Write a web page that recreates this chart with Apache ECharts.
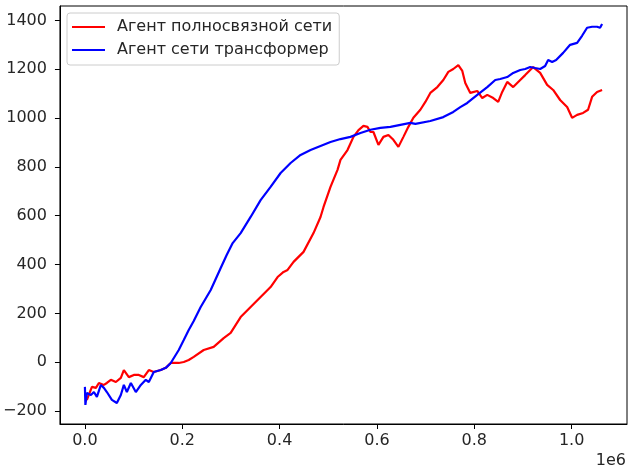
<!DOCTYPE html>
<html>
<head>
<meta charset="utf-8">
<script src="https://cdn.jsdelivr.net/npm/echarts@6/dist/echarts.min.js"></script>
<style>html,body{margin:0;padding:0;background:#fff}#c{width:628px;height:472px}</style>
</head>
<body>
<div id="c"></div>
<script>
const seriesNames = ['Агент полносвязной сети', 'Агент сети трансформер'];

const redSteps = [0,4100,8200,14400,22600,28700,39000,45100,53300,63600,73800,80000,84100,90300,100500,110800,121000,131300,141500,155900,166200,176400,192800,203100,213300,223600,244100,264600,285100,299500,320000,340500,361000,381500,395900,408200,416400,428700,449200,469700,484100,490300,504600,519000,525100,539500,551800,562100,572300,580500,586700,592800,603100,613300,623600,633800,644100,654400,664600,674900,689200,699500,709700,724100,736400,746700,756900,767200,775400,781500,791800,806200,816400,826700,839000,849200,857400,867700,880000,894400,904600,914900,921000,935400,949700,962100,976400,990800,1001000,1011300,1023600,1033800,1042100,1052300,1062600];
const redRewards = [-126,-154,-146,-101,-105,-85,-93,-85,-72,-81,-64,-32,-40,-61,-52,-52,-61,-32,-40,-32,-23,-3,-3,1,9,22,50,63,99,120,185,226,267,308,349,370,378,411,452,529,595,636,718,788,829,869,923,951,968,964,943,943,890,923,931,911,882,923,964,1001,1034,1066,1103,1127,1156,1189,1201,1217,1193,1144,1103,1111,1082,1095,1082,1066,1107,1148,1127,1156,1176,1197,1209,1185,1136,1115,1074,1045,1001,1013,1021,1034,1087,1107,1115];

const blueSteps = [0,1000,4100,12300,18500,24600,32800,39000,45100,55400,65600,73800,80000,86200,94400,104600,114900,125100,131300,141500,155900,166200,176400,192800,203100,213300,223600,237900,258500,279000,291300,303600,320000,340500,361000,381500,402100,422600,443100,463600,484100,504600,525100,545600,566200,586700,607200,627700,648200,668700,679000,709700,736400,756900,771300,785600,806200,826700,843100,853300,867700,880000,894400,904600,914900,925100,935400,945600,951800,960000,968200,982600,996900,1011300,1021500,1031800,1042100,1052300,1058500,1062600];
const blueRewards = [-101,-175,-126,-134,-122,-142,-93,-105,-122,-154,-167,-134,-93,-122,-85,-122,-93,-72,-81,-40,-32,-23,-3,50,91,132,169,226,296,386,439,488,529,595,664,718,775,816,849,869,886,902,914,923,939,952,960,964,972,980,976,988,1004,1025,1045,1062,1095,1127,1156,1160,1168,1185,1197,1201,1209,1205,1201,1213,1238,1230,1238,1267,1300,1308,1337,1370,1374,1374,1370,1385];

const xTicks = [0, 200000, 400000, 600000, 800000, 1000000];
const yTicks = [-200, 0, 200, 400, 600, 800, 1000, 1200, 1400];
const xOffsetLabel = '1e6';

function zip(a, b) { return a.map((v, i) => [v, b[i]]); }

const chart = echarts.init(document.getElementById('c'), null, { renderer: 'canvas' });
const font = '"DejaVu Sans"';
const fs = 16;
chart.setOption({
  animation: false,
  backgroundColor: '#ffffff',
  textStyle: { fontFamily: font },
  grid: { left: 59, top: 6, right: 1, bottom: 48, show: true, borderColor: '#000', borderWidth: 1, backgroundColor: 'transparent' },
  xAxis: {
    type: 'value', min: -51300, max: 1113800,
    axisLine: { show: true, onZero: false, lineStyle: { color: '#000', width: 1 } },
    axisTick: { show: true, inside: false, length: 5, lineStyle: { color: '#000' }, customValues: xTicks },
    axisLabel: { customValues: xTicks, color: '#262626', fontSize: fs, fontFamily: font, margin: 9,
      formatter: v => (v / 1e6).toFixed(1) },
    splitLine: { show: false }
  },
  yAxis: {
    type: 'value', min: -253, max: 1459,
    axisLine: { show: true, onZero: false, lineStyle: { color: '#000', width: 1 } },
    axisTick: { show: true, inside: false, length: 5, lineStyle: { color: '#000' }, customValues: yTicks },
    axisLabel: { customValues: yTicks, color: '#262626', fontSize: fs, fontFamily: font, margin: 13,
      formatter: v => String(v).replace('-', '\u2212') },
    splitLine: { show: false }
  },
  legend: {
    orient: 'vertical', left: 67, top: 13,
    padding: [6, 7, 7, 5], itemGap: 7,
    itemWidth: 33, itemHeight: 2, icon: 'rect',
    backgroundColor: 'rgba(255,255,255,0.8)', borderColor: '#cccccc', borderWidth: 1, borderRadius: 3,
    textStyle: { fontSize: fs, fontFamily: font, color: '#262626', lineHeight: 16, padding: [0, 0, 0, 7] },
    data: seriesNames
  },
  graphic: [{
    type: 'text', right: 2, top: 453,
    style: { text: xOffsetLabel, fontSize: fs, fontFamily: font, fill: '#262626' }
  }],
  series: [
    { name: seriesNames[0], type: 'line', data: zip(redSteps, redRewards), symbol: 'none', color: '#ff0000', lineStyle: { width: 2.2, color: '#ff0000' }, z: 2 },
    { name: seriesNames[1], type: 'line', data: zip(blueSteps, blueRewards), symbol: 'none', color: '#0000ff', lineStyle: { width: 2.2, color: '#0000ff' }, z: 3 }
  ]
});
</script>
</body>
</html>
